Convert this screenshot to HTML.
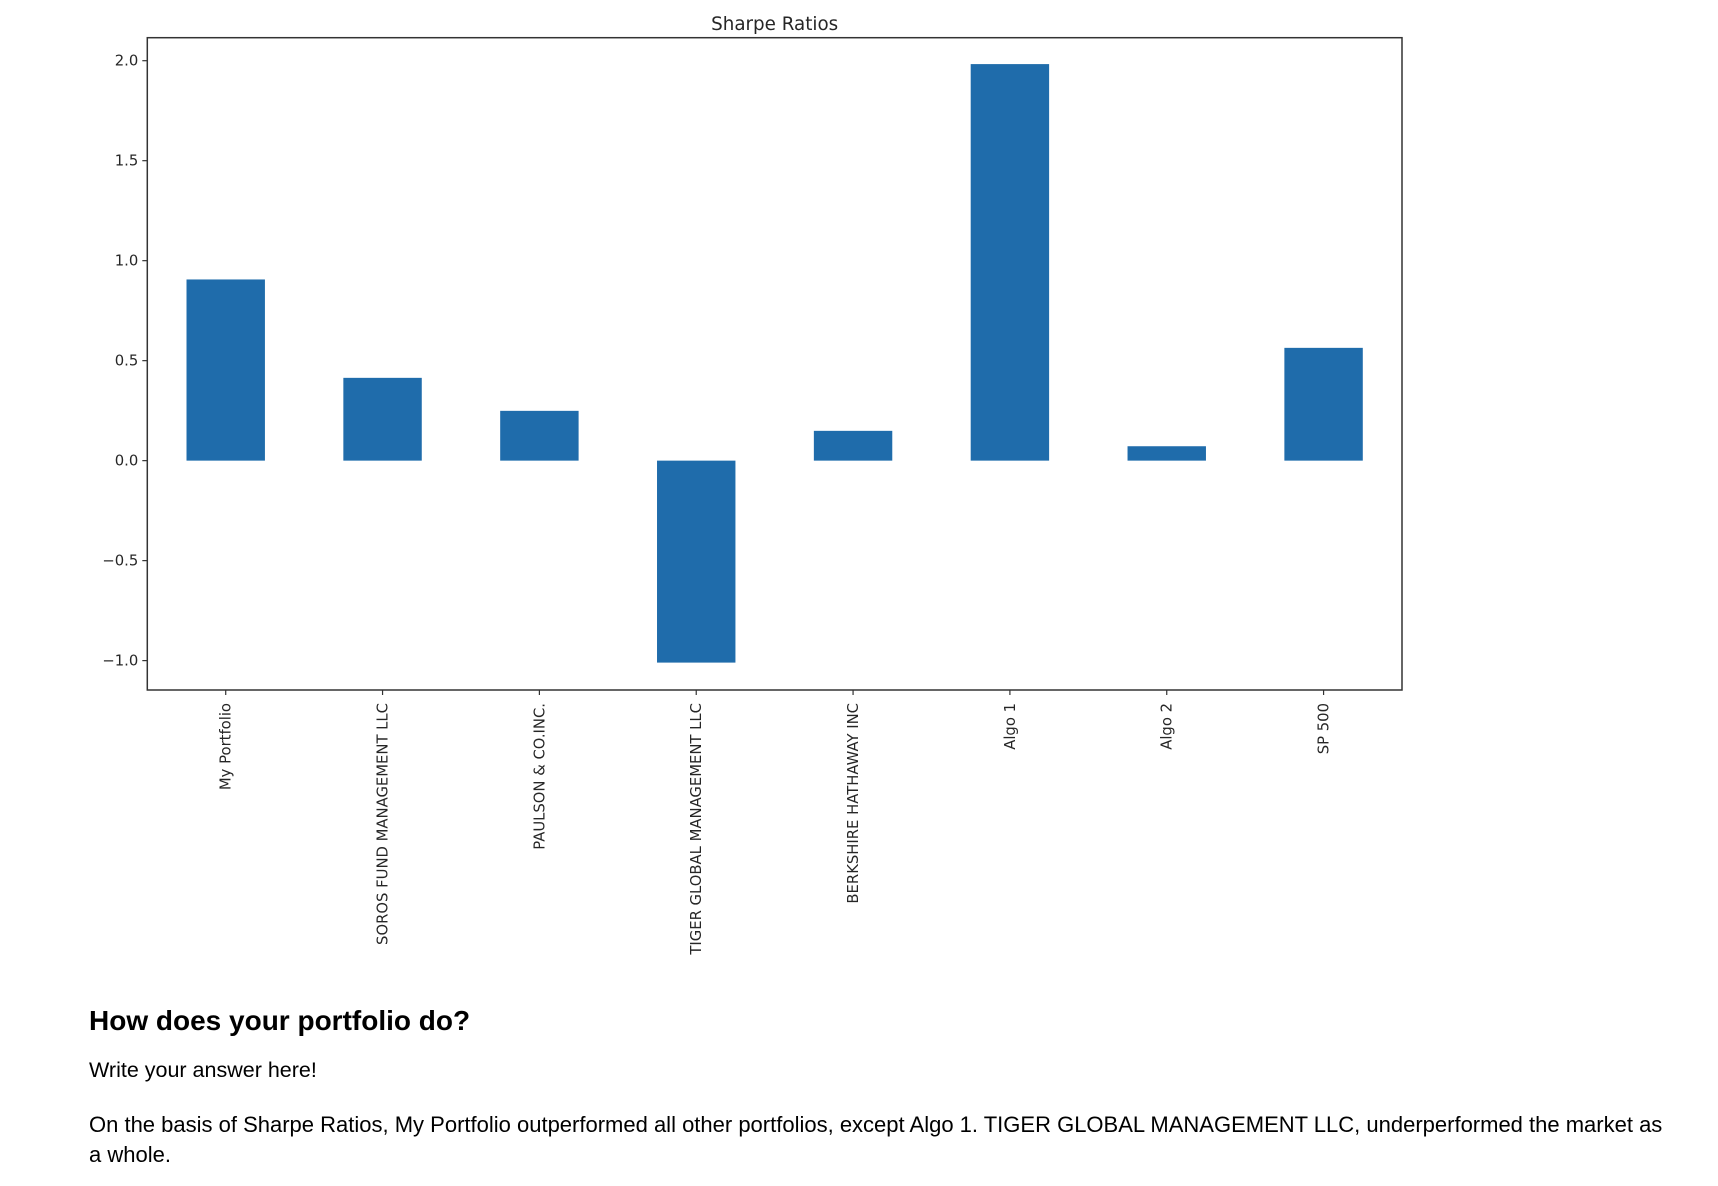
<!DOCTYPE html>
<html><head><meta charset="utf-8"><style>
body{margin:0;background:#fff;width:1718px;height:1186px;overflow:hidden;position:relative}
svg{position:absolute;left:0;top:0}
.t{position:absolute;left:89px;font-family:"Liberation Sans",Arial,sans-serif;color:#000;margin:0;white-space:nowrap}
</style></head><body>
<svg id="chart" width="1718" height="1000" xmlns="http://www.w3.org/2000/svg"></svg>
<div class="t" style="top:1005px;font-size:28px;font-weight:bold;line-height:32px">How does your portfolio do?</div>
<div class="t" style="top:1058px;font-size:21.5px;line-height:24px">Write your answer here!</div>
<div class="t" style="top:1110px;font-size:22px;line-height:30px">On the basis of Sharpe Ratios, My Portfolio outperformed all other portfolios, except Algo 1. TIGER GLOBAL MANAGEMENT LLC, underperformed the market as<br>a whole.</div>
<script>
const categories=["My Portfolio","SOROS FUND MANAGEMENT LLC","PAULSON & CO.INC.","TIGER GLOBAL MANAGEMENT LLC","BERKSHIRE HATHAWAY INC","Algo 1","Algo 2","SP 500"];
const values=[0.906,0.414,0.249,-1.01,0.149,1.983,0.072,0.564];
const yTicks=[-1.0,-0.5,0.0,0.5,1.0,1.5,2.0];
const yTickLabels=["\u22121.0","\u22120.5","0.0","0.5","1.0","1.5","2.0"];
const NS="http://www.w3.org/2000/svg";
const svg=document.getElementById('chart');
const L=147.3,R=1402,T=37.7,B=690;
const yMin=-1.147,yMax=2.115;
function y(v){return B-(v-yMin)/(yMax-yMin)*(B-T);}
const step=(R-L)/categories.length;
function x(i){return L+step*(i+0.5);}
function mk(tag,attrs){const e=document.createElementNS(NS,tag);for(const k in attrs)e.setAttribute(k,attrs[k]);svg.appendChild(e);return e;}
const font='"DejaVu Sans","Liberation Sans",sans-serif';
values.forEach((v,i)=>{
  const y0=y(0),y1=y(v);
  const r=mk('rect',{x:x(i)-step/4,y:Math.min(y0,y1),width:step/2,height:Math.abs(y1-y0),fill:'#1f6cab'});
  
  
  const tk=mk('line',{x1:x(i),x2:x(i),y1:B,y2:B+5,stroke:'#333','stroke-width':1.2});
  
  
  const t=mk('text',{x:0,y:0,transform:`translate(${x(i)+5},${B+13}) rotate(-90)`,'text-anchor':'end','font-family':font,'font-size':14.8,fill:'#262626'});
  t.textContent=categories[i];
  
  
});
yTicks.forEach((v,i)=>{
  const tk=mk('line',{x1:L-5,x2:L,y1:y(v),y2:y(v),stroke:'#333','stroke-width':1.2});
  
  
  const t=mk('text',{x:L-9,y:y(v)+5,'text-anchor':'end','font-family':font,'font-size':14.8,fill:'#262626'});
  t.textContent=yTickLabels[i];
  
  
});
const f=mk('rect',{x:L,y:T,width:R-L,height:B-T,fill:'none',stroke:'#333','stroke-width':1.5});


const ti=mk('text',{x:(L+R)/2,y:30,'text-anchor':'middle','font-family':font,'font-size':18.3,fill:'#262626'});
ti.textContent='Sharpe Ratios';


</script>
</body></html>
